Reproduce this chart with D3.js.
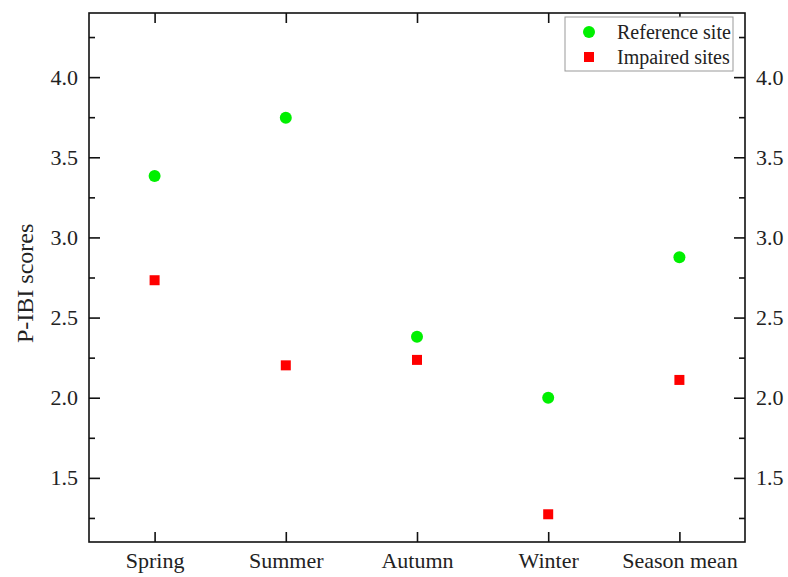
<!DOCTYPE html>
<html>
<head>
<meta charset="utf-8">
<script src="https://cdn.jsdelivr.net/npm/d3@7"></script>
<style>
body { margin: 0; background: #fff; }
text { font-family: "Liberation Serif", "Times New Roman", serif; fill: #222; }
</style>
</head>
<body>
<svg id="chart" width="788" height="577"></svg>
<script>
var seasons = ["Spring", "Summer", "Autumn", "Winter", "Season mean"];
var referenceSite = [3.383, 3.746, 2.381, 2.0, 2.877];
var impairedSites = [2.733, 2.202, 2.236, 1.273, 2.111];
var yTicks = [1.5, 2.0, 2.5, 3.0, 3.5, 4.0];
var yMinor = [1.25, 1.75, 2.25, 2.75, 3.25, 3.75, 4.25];

var svg = d3.select("#chart");
var plotLeft = 89, plotRight = 745, plotTop = 13, plotBottom = 542;

var x = d3.scalePoint().domain(seasons).range([plotLeft, plotRight]).padding(0.5);
var y = d3.scaleLinear().domain([1.1, 4.4]).range([plotBottom, plotTop]);

function styleAxis(g){
	g.select(".domain").remove();
	g.selectAll(".tick line").attr("stroke", "#111").attr("stroke-width", 1.6);
	g.selectAll(".tick text").style("font-size", "22px");
}

// left axis, ticks inward
svg.append("g").attr("transform", "translate(" + plotLeft + ",0)")
	.call(d3.axisLeft(y).tickValues(yTicks).tickFormat(d3.format(".1f")).tickSizeInner(-11).tickPadding(11))
	.call(styleAxis);
svg.append("g").attr("transform", "translate(" + plotLeft + ",0)")
	.call(d3.axisLeft(y).tickValues(yMinor).tickFormat("").tickSizeInner(-6))
	.call(styleAxis);

// right axis
svg.append("g").attr("transform", "translate(" + plotRight + ",0)")
	.call(d3.axisRight(y).tickValues(yTicks).tickFormat(d3.format(".1f")).tickSizeInner(-11).tickPadding(11))
	.call(styleAxis);
svg.append("g").attr("transform", "translate(" + plotRight + ",0)")
	.call(d3.axisRight(y).tickValues(yMinor).tickFormat("").tickSizeInner(-6))
	.call(styleAxis);

// bottom axis
svg.append("g").attr("transform", "translate(0," + plotBottom + ")")
	.call(d3.axisBottom(x).tickSizeInner(-10).tickPadding(10))
	.call(styleAxis);
// top axis
svg.append("g").attr("transform", "translate(0," + plotTop + ")")
	.call(d3.axisTop(x).tickSizeInner(-10).tickFormat(""))
	.call(styleAxis);

// frame
svg.append("rect").attr("x", plotLeft).attr("y", plotTop)
	.attr("width", plotRight - plotLeft).attr("height", plotBottom - plotTop)
	.attr("fill", "none").attr("stroke", "#111").attr("stroke-width", 1.6);

// y label
svg.append("text")
	.attr("transform", "translate(33,343) rotate(-90)")
	.attr("text-anchor", "start")
	.style("font-size", "24px")
	.text("P-IBI scores");

// points
svg.append("g").selectAll("circle").data(referenceSite).enter().append("circle")
	.attr("cx", function(d, i){ return x(seasons[i]); })
	.attr("cy", function(d){ return y(d); })
	.attr("r", 6)
	.attr("fill", "#00f000");

svg.append("g").selectAll("rect").data(impairedSites).enter().append("rect")
	.attr("x", function(d, i){ return x(seasons[i]) - 5; })
	.attr("y", function(d){ return y(d) - 5; })
	.attr("width", 10).attr("height", 10)
	.attr("fill", "#ff0000");

// legend
var lg = svg.append("g").attr("transform", "translate(565,17)");
lg.append("rect").attr("width", 168).attr("height", 54)
	.attr("fill", "#fff").attr("stroke", "#999").attr("stroke-width", 1);
lg.append("circle").attr("cx", 24).attr("cy", 15).attr("r", 6).attr("fill", "#00f000");
lg.append("rect").attr("x", 19).attr("y", 35).attr("width", 10).attr("height", 10).attr("fill", "#ff0000");
lg.append("text").attr("x", 52).attr("y", 22).style("font-size", "20px").text("Reference site");
lg.append("text").attr("x", 52).attr("y", 47).style("font-size", "20px").text("Impaired sites");
</script>
</body>
</html>
